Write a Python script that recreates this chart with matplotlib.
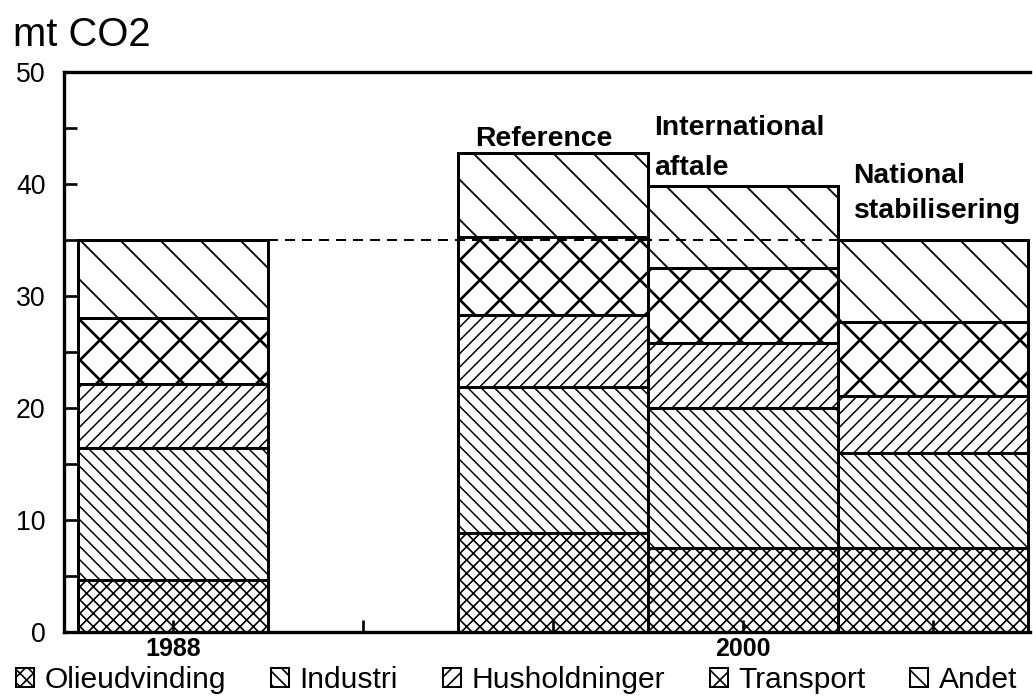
import matplotlib
matplotlib.use("Agg")
import matplotlib.pyplot as plt
import numpy as np
from matplotlib.patches import Patch

# Data (mt CO2)
positions = [0, 2, 3, 4]
sectors = ["Olieudvinding", "Industri", "Husholdninger", "Transport", "Andet"]
olieudvinding = [4.6, 8.8, 7.5, 7.5]
industri = [11.8, 13.1, 12.5, 8.5]
husholdninger = [5.7, 6.4, 5.8, 5.1]
transport = [5.9, 7.0, 6.7, 6.6]
andet = [7.0, 7.5, 7.3, 7.3]
level_1988 = 35.0

x_ticks = [0, 1, 2, 3, 4]
x_tick_labels = ["1988", "", "", "2000", ""]
y_ticks = [0, 10, 20, 30, 40, 50]

hatches = ["xxx", "\\\\\\", "///", "x", "\\"]
hatch_widths = [1.0, 0.9, 0.9, 1.6, 1.1]

plt.rcParams["font.family"] = ["Liberation Sans", "DejaVu Sans"]
plt.rcParams["hatch.color"] = "black"

DPI = 120
fig = plt.figure(figsize=(1033 / DPI, 700 / DPI), dpi=DPI)
ax = fig.add_axes([64 / 1033, 68 / 700, 966 / 1033, 560 / 700])

series = [olieudvinding, industri, husholdninger, transport, andet]
bottom = np.zeros(len(positions))
for name, vals, hatch, hw in zip(sectors, series, hatches, hatch_widths):
    bars = ax.bar(positions, vals, width=1.0, bottom=bottom, color="white",
                  edgecolor="black", linewidth=1.8, hatch=hatch, label=name)
    for b in bars:
        if hasattr(b, "set_hatch_linewidth"):
            b.set_hatch_linewidth(hw)
    bottom += np.array(vals)

# dashed 1988 level across the gap and the first scenarios
ax.hlines(level_1988, positions[0] + 0.5, positions[3] - 0.5, colors="black",
          linestyles=(0, (5, 3.5)), linewidth=1.2, zorder=5)

# scenario labels
bold = dict(fontsize=17, fontweight="bold", va="baseline")
ax.text(positions[1] - 0.05, 43.4, "Reference", ha="center", **bold)
ax.text(positions[2] - 0.47, 44.4, "International", ha="left", **bold)
ax.text(positions[2] - 0.47, 40.8, "aftale", ha="left", **bold)
ax.text(positions[3] - 0.42, 40.1, "National", ha="left", **bold)
ax.text(positions[3] - 0.42, 37.0, "stabilisering", ha="left", **bold)

ax.set_xlim(-0.573, 4.508)
ax.set_ylim(0, 50)
ax.set_yticks(y_ticks)
ax.set_yticks(np.arange(5, 50, 10), minor=True)
ax.set_xticks(x_ticks)
ax.set_xticklabels(x_tick_labels, fontsize=15, fontweight="bold")
ax.tick_params(axis="y", which="both", direction="in", length=8, width=1.6,
               labelsize=16, pad=11)
ax.tick_params(axis="x", direction="in", length=7, width=1.6, pad=3)

for side in ["left", "bottom", "top"]:
    ax.spines[side].set_linewidth(2.0)
ax.spines["right"].set_visible(False)

fig.text(13 / 1033, 1 - 46 / 700, "mt CO2", fontsize=24, va="baseline", ha="left")

handles = [Patch(facecolor="white", edgecolor="black", hatch=h, linewidth=1.2)
           for h in hatches]
fig.legend(handles, sectors, loc="lower center", bbox_to_anchor=(0.5, -0.013),
           ncol=5, frameon=False, fontsize=18, handlelength=0.6,
           handleheight=0.6, handletextpad=0.35, columnspacing=1.5,
           borderpad=0.0)

fig.savefig("out.png", dpi=DPI)
